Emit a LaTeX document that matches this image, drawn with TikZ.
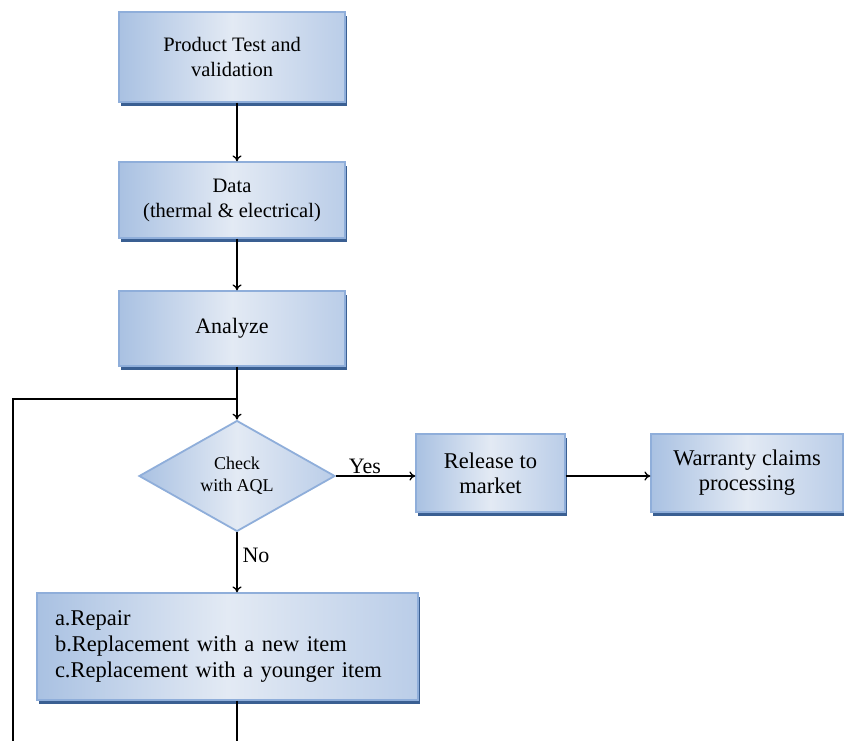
\documentclass[tikz,border=0pt]{standalone}
\usepackage{fontspec}
\setmainfont{Liberation Serif}
\usetikzlibrary{shapes.geometric,arrows.meta,shadows}
\definecolor{boxedge}{HTML}{8FAEDA}
\definecolor{boxdark}{HTML}{A9C1E2}
\definecolor{boxlight}{HTML}{E3EAF4}
\definecolor{boxright}{HTML}{BACDE8}
\definecolor{shadowblue}{HTML}{3A5F92}
\tikzset{
  flowbox/.style={rectangle, draw=boxedge, line width=1.2pt, inner sep=0pt,
    left color=boxdark, right color=boxright, middle color=boxlight,
    drop shadow={shadow xshift=2pt, shadow yshift=-4pt, fill=shadowblue, opacity=1},
    align=center},
  decision/.style={diamond, draw=boxedge, line width=1.8pt, inner sep=0pt,
    left color=boxdark, right color=boxright, middle color=boxlight, align=center},
  conn/.style={line width=1.3pt, -{To[length=6pt,width=9pt]}},
  plain/.style={line width=1.3pt},
  lbl/.style={inner sep=0pt, font=\fontsize{22}{26}\selectfont}
}
\begin{document}
\begin{tikzpicture}[x=1pt,y=-1pt]
\useasboundingbox (0,0) rectangle (844,741);
\node[flowbox, minimum width=226pt, minimum height=90pt, font=\fontsize{20.5}{25}\selectfont] (b1) at (232,57) {Product Test and\\validation};
\node[flowbox, minimum width=226pt, minimum height=76pt, font=\fontsize{20.5}{25}\selectfont] (b2) at (232,200) {Data\\(thermal \& electrical)};
\node[flowbox, minimum width=226pt, minimum height=75pt, font=\fontsize{22}{26}\selectfont] (b3) at (232,328.5) {Analyze};
\node[decision, minimum width=196pt, minimum height=106pt, font=\fontsize{18}{22}\selectfont] (d) at (237,476) {Check\\with AQL};
\node[flowbox, minimum width=149pt, minimum height=78pt, font=\fontsize{22.5}{25}\selectfont] (r1) at (490.5,473) {Release to\\market};
\node[flowbox, minimum width=192pt, minimum height=78pt, font=\fontsize{22.5}{25}\selectfont] (r2) at (747,473) {Warranty claims\\processing};
\node[flowbox, minimum width=381pt, minimum height=107pt, text width=345pt, align=left, font=\fontsize{22.5}{26}\selectfont] (b4) at (227.5,646.5) {a.Repair\\b.Replacement with a new item\\c.Replacement with a younger item};
\node[lbl] (yes) at (365,466) {Yes};
\node[lbl] (no) at (256,555) {No};
\coordinate (loopjoin) at (237,399);
\coordinate (loopcorner) at (13,399);
\coordinate (loopbottom) at (13,741);
\coordinate (mainbottom) at (237,741);
\draw[conn] (b1.south -| d.north) -- (b2.north -| d.north);
\draw[conn] (b2.south -| d.north) -- (b3.north -| d.north);
\draw[conn] (b3.south -| d.north) -- (d.north);
\draw[conn] (d.east) -- (d.east -| r1.west);
\draw[conn] (r1.east |- d.east) -- (r2.west |- d.east);
\draw[conn] (d.south) -- (b4.north -| d.south);
\draw[plain] (b4.south -| d.south) -- (mainbottom);
\draw[plain] (loopbottom) -- (loopcorner) -- (loopjoin);
\end{tikzpicture}
\end{document}
